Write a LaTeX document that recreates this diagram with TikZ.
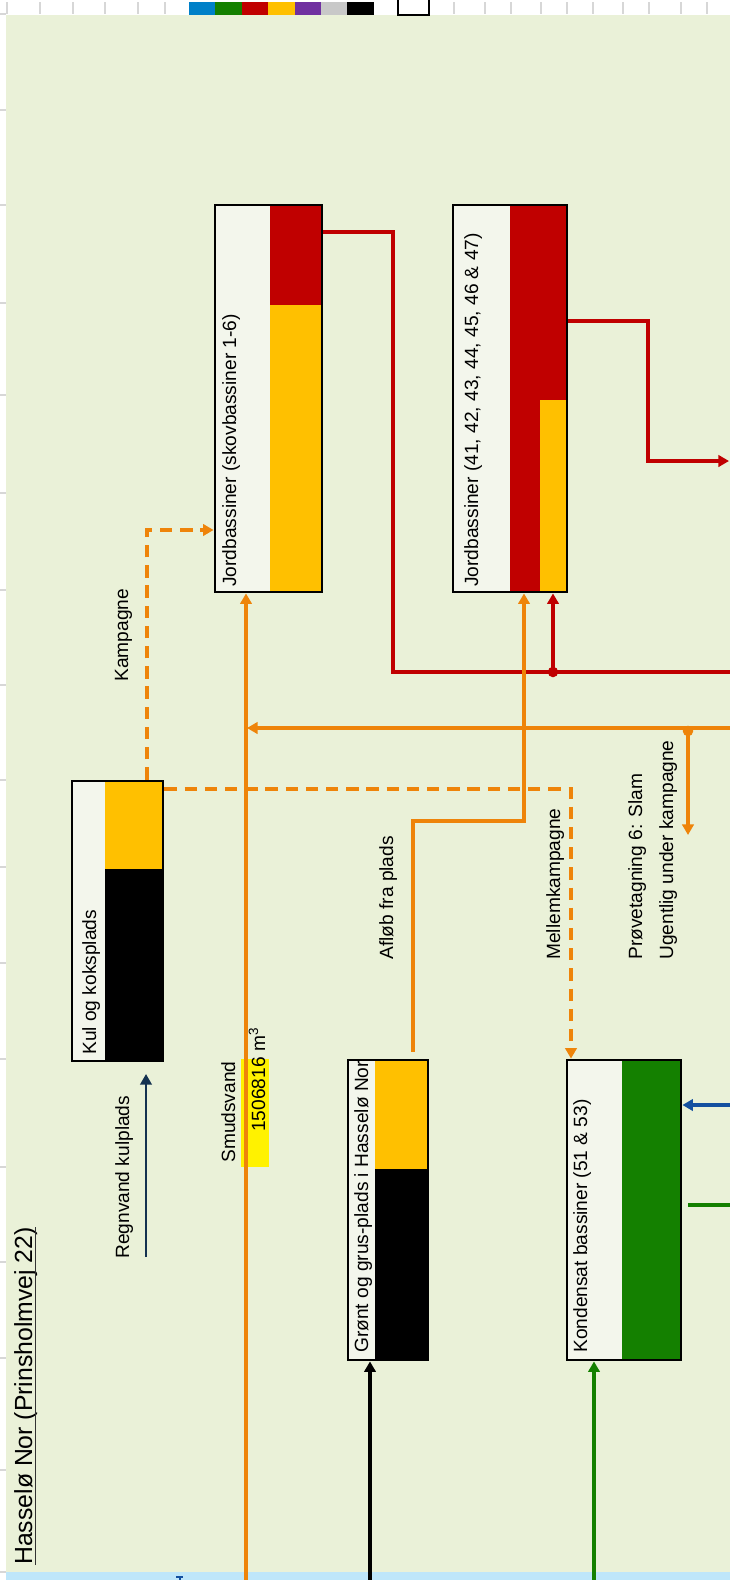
\documentclass[tikz,border=0pt]{standalone}
\usepackage{fontspec}
\setmainfont{Liberation Sans}
\usetikzlibrary{arrows.meta,fit}
\definecolor{bggreen}{RGB}{234,241,216}
\definecolor{cellwhite}{RGB}{243,246,236}
\definecolor{stripblue}{RGB}{190,230,250}
\definecolor{dred}{RGB}{192,0,0}
\definecolor{dyellow}{RGB}{255,192,0}
\definecolor{dgreen}{RGB}{20,128,0}
\definecolor{dorange}{RGB}{238,132,10}
\definecolor{dblue}{RGB}{0,128,200}
\definecolor{dpurple}{RGB}{112,48,160}
\definecolor{dgray}{RGB}{200,200,200}
\definecolor{dnavy}{RGB}{20,50,80}
\definecolor{arrowblue}{RGB}{20,80,160}
\definecolor{tickgray}{RGB}{215,215,215}
\begin{document}
\begin{tikzpicture}[x=0.02cm,y=-0.02cm,
		>={Triangle[width=6.5pt,length=6pt]},
		box/.style={draw,line width=1.6pt,inner sep=0pt},
		lbl/.style={rotate=90,anchor=base west,inner sep=0pt,font={\fontsize{10.9pt}{13pt}\selectfont}},
		flow/.style={line width=2pt},
		oline/.style={flow,dorange},
		odash/.style={flow,dorange,dash pattern=on 7pt off 4.5pt},
		rline/.style={flow,dred},
		tick/.style={tickgray,line width=0.6pt}]
	\useasboundingbox (0,0) rectangle (730,1580);
	\fill[white] (0,0) rectangle (730,1580);
	\fill[bggreen] (6,15) rectangle (730,1572);
	\fill[stripblue] (6,1572) rectangle (730,1580);
	
	% ruler ticks
	\foreach \x in {7,40,73,105,138,165,454,485,511,541,567,593,623,649,681,707}
	{
		\draw[tick] (\x,2)--(\x,14);
	}
	\foreach \y in {14,110,205,303,395,493,590,685,780,867,963,1059,1167,1262,1358,1470,1572}
	{
		\draw[tick] (0,\y)--(6,\y);
	}
	\foreach \c [count=\i] in {dblue,dgreen,dred,dyellow,dpurple,dgray,black}
	{
		\fill[\c] ({189+(\i-1)*26.4},2) rectangle ++(26.4,13);
	}
	\draw[line width=1.2pt] (398,0)--(398,15)--(429,15)--(429,0);
	\draw[arrowblue,line width=0.8pt] (176,1577)--(183,1577) (180,1577)--(180,1580);
	
	% basins
	\fill[cellwhite] (215,205) rectangle (270,592);
	\fill[dred] (270,205) rectangle (322,305);
	\fill[dyellow] (270,305) rectangle (322,592);
	\node[box,fit={(215,205) (322,592)}] (j16) {};
	
	\fill[cellwhite] (453,205) rectangle (510,592);
	\fill[dred] (510,205) rectangle (567,400);
	\fill[dred] (510,400) rectangle (540,592);
	\fill[dyellow] (540,400) rectangle (567,592);
	\node[box,fit={(453,205) (567,592)}] (j41) {};
	
	\fill[cellwhite] (72,781) rectangle (105,1061);
	\fill[dyellow] (105,781) rectangle (163,869);
	\fill[black] (105,869) rectangle (163,1061);
	\node[box,fit={(72,781) (163,1061)}] (kul) {};
	
	\fill[cellwhite] (348,1060) rectangle (375,1360);
	\fill[dyellow] (375,1060) rectangle (428,1169);
	\fill[black] (375,1169) rectangle (428,1360);
	\node[box,fit={(348,1060) (428,1360)}] (gron) {};
	
	\fill[cellwhite] (567,1060) rectangle (622,1360);
	\fill[dgreen] (622,1060) rectangle (681,1360);
	\node[box,fit={(567,1060) (681,1360)}] (kond) {};
	
	\fill[yellow] (241,1059) rectangle (269,1167);
	
	% points on the way
	\coordinate (r1) at (393,232);
	\coordinate (r2) at (393,672);
	\coordinate (rR) at (730,672);
	\coordinate (rd) at (553,672);
	\coordinate (r3) at (648,321);
	\coordinate (r4) at (648,461);
	\coordinate (r5) at (729,461);
	\coordinate (oR) at (730,728);
	\coordinate (oL) at (247,728);
	\coordinate (od) at (688,728);
	\coordinate (oB) at (246,1580);
	\coordinate (a1) at (413,821);
	\coordinate (a2) at (524,821);
	\coordinate (k1) at (147,530);
	\coordinate (m1) at (571,789);
	\coordinate (rv1) at (146,1257);
	\coordinate (rv2) at (146,1074);
	\coordinate (bB) at (370,1580);
	\coordinate (gB) at (594,1580);
	\coordinate (bR) at (730,1105);
	\coordinate (gR) at (730,1205);
	
	% flows
	\draw[rline] (j16.east |- r1)--(r1)--(r2)--(rR);
	\draw[rline,->] (rd)--(rd |- j41.south);
	\fill[dred] (rd) circle (3pt);
	\draw[rline,->] (j41.east |- r3)--(r3)--(r4)--(r5);
	\draw[oline,->] (oB)--(oB |- j16.south);
	\draw[oline,->] (oR)--(oL);
	\draw[oline,->] (od)--++(0,107);
	\fill[dorange] (688,731) circle (3pt);
	\draw[oline,->,shorten <=4pt] (a1 |- gron.north)--(a1)--(a2)--(a2 |- j41.south);
	\draw[odash,->] (k1 |- kul.north)--(k1)--(k1 -| j16.west);
	\draw[odash,->] (kul.east |- m1)--(m1)--(m1 |- kond.north);
	\draw[dnavy,line width=1.3pt,->] (rv1)--(rv2);
	\draw[flow,black,->] (bB)--(bB |- gron.south);
	\draw[flow,dgreen,->] (gB)--(gB |- kond.south);
	\draw[flow,arrowblue,->] (bR)--(bR -| kond.east);
	\draw[flow,dgreen,shorten >=3pt] (gR)--(gR -| kond.east);
	
	% texts
	\node[lbl] (t16) at (236,587) {Jordbassiner (skovbassiner 1-6)};
	\node[lbl] (t41) at (478,587) {Jordbassiner (41, 42, 43, 44, 45, 46 \& 47)};
	\node[lbl] (tkul) at (96,1055) {Kul og koksplads};
	\node[lbl] (tgron) at (368,1353) {Grønt og grus-plads i Hasselø Nor};
	\node[lbl] (tkond) at (587,1353) {Kondensat bassiner (51 \& 53)};
	\node[lbl] (tkamp) at (128,682) {Kampagne};
	\node[lbl] (tregn) at (129,1259) {Regnvand kulplads};
	\node[lbl] (tsmud) at (235,1163) {Smudsvand};
	\node[lbl] (tnum) at (265,1132) {1506816 m\textsuperscript{3}};
	\node[lbl] (tafl) at (393,960) {Afløb fra plads};
	\node[lbl] (tmel) at (560,960) {Mellemkampagne};
	\node[lbl] (tpro) at (642,960) {Prøvetagning 6: Slam};
	\node[lbl] (tuge) at (673,960) {Ugentlig under kampagne};
	\node[lbl,font={\fontsize{14.1pt}{17pt}\selectfont}] (title) at (32,1565) {Hasselø Nor (Prinsholmvej 22)};
	\draw[line width=0.6pt,black!80] ([xshift=0.07cm]title.base west)--([xshift=0.07cm]title.base east);
	
\end{tikzpicture}
\end{document}
